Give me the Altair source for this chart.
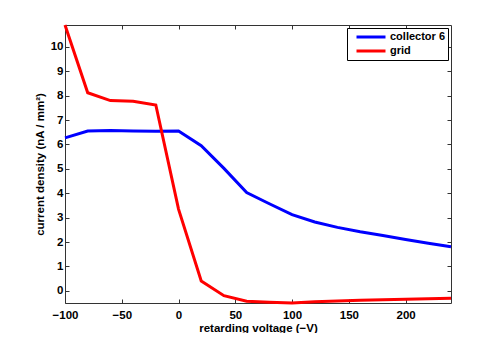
import altair as alt
import pandas as pd

voltage = [-100, -80, -60, -40, -20, 0, 20, 40, 60, 80, 100, 120, 140, 160, 180, 200, 220, 240]
collector6 = [6.27, 6.55, 6.57, 6.55, 6.54, 6.55, 5.95, 5.02, 4.03, 3.57, 3.12, 2.82, 2.6, 2.42, 2.27, 2.1, 1.95, 1.81]
grid = [10.9, 8.12, 7.8, 7.77, 7.62, 3.35, 0.4, -0.2, -0.43, -0.47, -0.5, -0.45, -0.42, -0.39, -0.37, -0.35, -0.33, -0.31]
series_names = ["collector 6", "grid"]
series_colors = ["#0000ff", "#ff0000"]
x_ticks = [-100, -50, 0, 50, 100, 150, 200]
y_ticks = list(range(0, 11))

rows = []
for name, vals in zip(series_names, [collector6, grid]):
    for v, c in zip(voltage, vals):
        rows.append({"voltage": v, "density": c, "series": name})
df = pd.DataFrame(rows)

FONT = "Liberation Sans"
xscale = alt.Scale(domain=[-100, 240], nice=False, zero=False)
yscale = alt.Scale(domain=[-0.5, 10.9], nice=False, zero=False)

common_axis = dict(domain=False, grid=False, tickSize=4, offset=-4, tickColor="#333",
                   labelFont=FONT, labelFontSize=11.5, labelFontWeight="bold", labelColor="black",
                   titleFont=FONT, titleFontSize=11.5, titleFontWeight="bold", titleColor="black")

lines = alt.Chart(df).mark_line(strokeWidth=3).encode(
    x=alt.X("voltage:Q", scale=xscale,
            axis=alt.Axis(values=x_ticks, title="retarding voltage (−V)", labelPadding=6,
                          titlePadding=2, labelFlush=False, **common_axis)),
    y=alt.Y("density:Q", scale=yscale,
            axis=alt.Axis(values=y_ticks, title="current density (nA / mm²)", labelPadding=2,
                          titlePadding=5, **common_axis)),
    color=alt.Color("series:N",
                    scale=alt.Scale(domain=series_names, range=series_colors),
                    legend=alt.Legend(title=None, orient="none", legendX=282, legendY=3,
                                      symbolType="stroke", symbolStrokeWidth=3, symbolSize=841,
                                      clipHeight=14, symbolOffset=6,
                                      labelFont=FONT, labelFontSize=11, labelFontWeight="bold",
                                      labelColor="black", strokeColor="black", fillColor="white",
                                      padding=2, rowPadding=0, labelOffset=3)),
)

frame_axis = dict(domain=False, grid=False, tickSize=4, offset=-4, tickColor="#333",
                  labels=False, title=None)
frame = alt.Chart(df).mark_line(opacity=0).encode(
    x=alt.X("voltage:Q", scale=xscale, axis=alt.Axis(orient="top", values=x_ticks, **frame_axis)),
    y=alt.Y("density:Q", scale=yscale, axis=alt.Axis(orient="right", values=y_ticks, **frame_axis)),
)

chart = alt.layer(lines, frame).resolve_axis(x="independent", y="independent").properties(
    width=386, height=278,
    autosize=alt.AutoSizeParams(type="none"),
    padding={"left": 57, "top": 17, "right": 39, "bottom": 30},
).configure_view(stroke="#333", strokeWidth=1)

chart.save("out.html", embed_options={"renderer": "svg", "actions": False})
